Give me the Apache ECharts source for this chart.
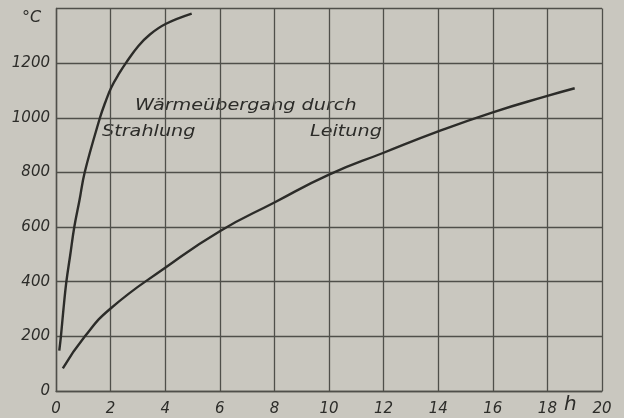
<!DOCTYPE html>
<html>
<head>
<meta charset="utf-8">
<script src="https://cdn.jsdelivr.net/npm/echarts@6/dist/echarts.min.js"></script>
<style>
  html, body { margin: 0; padding: 0; background: #c9c7bf; }
  #chart { width: 624px; height: 418px; }
</style>
</head>
<body>
<div id="chart"></div>
<script>
// Heating time (h) vs. temperature (°C)
const strahlungTime = [0.12, 0.18, 0.27, 0.38, 0.52, 0.67, 0.86, 1.05, 1.61, 1.80, 2.02, 2.33, 2.57, 3.01, 3.44, 4.03, 4.97];
const strahlungTemp = [148, 200, 296, 400, 497, 600, 698, 800, 1000, 1055, 1110, 1165, 1202, 1262, 1305, 1344, 1381];

const leitungTime = [0.25, 1.06, 2.0, 4.0, 6.0, 8.0, 10.0, 12.0, 14.0, 16.0, 18.0, 19.0];
const leitungTemp = [83, 200, 302, 451, 585, 690, 792, 872, 950, 1020, 1080, 1108];

const xTicks = { min: 0, max: 20, step: 2 };
const yTicks = { min: 0, max: 1400, step: 200 };

const ink = '#2c2c29';
const gridInk = '#4f4f4a';
const labelFont = { fontFamily: 'DejaVu Sans', fontStyle: 'italic', fontSize: 15, color: ink };

function pairs(xs, ys) { return xs.map((x, i) => [x, ys[i]]); }

const chart = echarts.init(document.getElementById('chart'), null, { renderer: 'canvas' });
chart.setOption({
  backgroundColor: '#c9c7bf',
  animation: false,
  grid: { left: 56, right: 22, top: 8.5, bottom: 27 },
  xAxis: {
    type: 'value', min: xTicks.min, max: xTicks.max, interval: xTicks.step,
    axisLine: { show: true, lineStyle: { color: gridInk, width: 1.4 } },
    axisTick: { show: false },
    splitLine: { show: true, lineStyle: { color: gridInk, width: 1.3 } },
    axisLabel: Object.assign({
      margin: 11, showMaxLabel: true, showMinLabel: true,
      formatter: v => String(v)
    }, labelFont)
  },
  yAxis: {
    type: 'value', min: yTicks.min, max: yTicks.max, interval: yTicks.step,
    axisLine: { show: true, lineStyle: { color: gridInk, width: 1.4 } },
    axisTick: { show: false },
    splitLine: { show: true, lineStyle: { color: gridInk, width: 1.3 } },
    axisLabel: Object.assign({
      margin: 6, showMaxLabel: false,
      padding: [0, 0, 8, 0],
      formatter: v => String(v)
    }, labelFont)
  },
  series: [
    {
      name: 'Strahlung', type: 'line', smooth: 0.4, symbol: 'none',
      lineStyle: { color: ink, width: 2.4 },
      data: pairs(strahlungTime, strahlungTemp)
    },
    {
      name: 'Leitung', type: 'line', smooth: 0.5, symbol: 'none',
      lineStyle: { color: ink, width: 2.4 },
      data: pairs(leitungTime, leitungTemp)
    }
  ],
  graphic: [
    { type: 'text', x: 22, y: 18, style: { text: '°C', font: 'italic 16px "DejaVu Sans"', fill: ink, verticalAlign: 'middle' } },
    { type: 'text', x: 564, y: 405, style: { text: 'h', font: 'italic 20px "DejaVu Sans"', fill: ink, verticalAlign: 'middle' } },
    { type: 'text', x: 135, y: 106, scaleX: 1.2, style: { text: 'Wärmeübergang durch', font: 'italic 16px "DejaVu Sans"', fill: ink, verticalAlign: 'middle' } },
    { type: 'text', x: 102, y: 132, scaleX: 1.2, style: { text: 'Strahlung', font: 'italic 16px "DejaVu Sans"', fill: ink, verticalAlign: 'middle' } },
    { type: 'text', x: 310, y: 132, scaleX: 1.2, style: { text: 'Leitung', font: 'italic 16px "DejaVu Sans"', fill: ink, verticalAlign: 'middle' } }
  ]
});
</script>
</body>
</html>
